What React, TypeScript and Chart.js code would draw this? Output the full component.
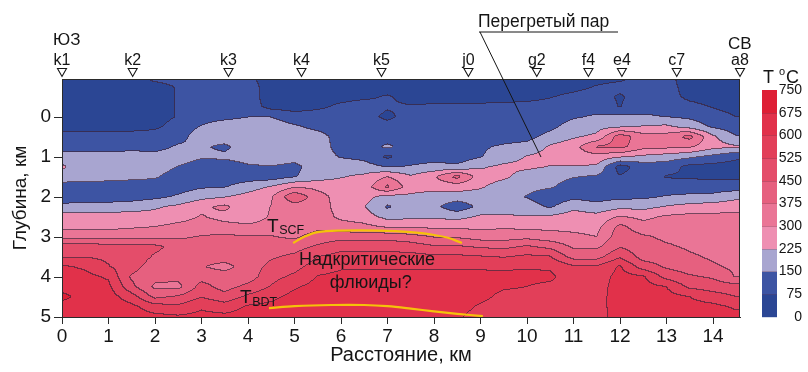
import React, { useEffect, useRef } from 'react';
import { Chart, registerables } from 'chart.js';

Chart.register(...registerables);

const FONT = '"Liberation Sans", Arial, Helvetica, sans-serif';

// grid of the section
const distanceKm = [0, 0.5, 1, 1.5, 2, 2.5, 3, 3.5, 4, 4.5, 5, 5.5, 6, 6.5, 7, 7.5, 8, 8.5, 9, 9.5, 10, 10.5, 11, 11.5, 12, 12.5, 13, 13.5, 14, 14.5];
const depthKm = [-1, -0.75, -0.5, -0.25, 0, 0.25, 0.5, 0.75, 1, 1.25, 1.5, 1.75, 2, 2.25, 2.5, 2.75, 3, 3.25, 3.5, 3.75, 4, 4.25, 4.5, 4.75, 5];

// temperature profiles (°C) at each distance, from top (depth -1 km) to bottom (5 km)
const T_0_0 = [40, 40, 40, 40, 40, 40, 110, 110, 190, 235, 200, 110, 110, 170, 260, 275, 350, 500, 520, 610, 630, 640, 700, 640, 630];
const T_0_5 = [40, 40, 40, 40, 40, 40, 110, 110, 190, 190, 195, 110, 110, 175, 260, 280, 350, 490, 520, 590, 620, 630, 640, 640, 630];
const T_1_0 = [40, 40, 40, 40, 40, 40, 110, 110, 190, 190, 180, 110, 110, 180, 255, 280, 345, 480, 510, 530, 590, 620, 635, 640, 630];
const T_1_5 = [40, 40, 40, 40, 40, 45, 110, 120, 190, 190, 170, 110, 115, 190, 260, 290, 350, 470, 500, 480, 440, 470, 560, 620, 630];
const T_2_0 = [100, 50, 40, 40, 40, 60, 110, 120, 180, 190, 160, 110, 130, 215, 250, 300, 350, 470, 440, 410, 400, 360, 430, 560, 620];
const T_2_5 = [110, 80, 80, 80, 80, 110, 120, 160, 190, 148, 110, 115, 160, 240, 270, 320, 360, 420, 410, 410, 400, 350, 460, 540, 610];
const T_3_0 = [110, 110, 110, 110, 120, 155, 190, 160, 160, 110, 105, 140, 200, 285, 305, 330, 380, 410, 410, 380, 420, 480, 520, 590, 620];
const T_3_5 = [110, 110, 110, 110, 130, 190, 190, 135, 165, 110, 105, 145, 220, 315, 280, 320, 390, 410, 410, 350, 410, 420, 480, 560, 620];
const T_4_0 = [90, 110, 110, 115, 148, 190, 190, 190, 180, 140, 110, 190, 250, 255, 270, 310, 380, 410, 410, 410, 410, 470, 540, 610, 630];
const T_4_5 = [40, 40, 40, 50, 148, 190, 190, 190, 190, 148, 110, 230, 290, 302, 305, 320, 380, 410, 440, 470, 500, 530, 580, 620, 630];
const T_5_0 = [40, 40, 40, 40, 110, 160, 190, 190, 180, 130, 145, 290, 440, 340, 320, 330, 360, 420, 465, 500, 540, 590, 625, 635, 640];
const T_5_5 = [40, 40, 40, 60, 110, 130, 180, 190, 185, 190, 190, 280, 330, 340, 340, 350, 410, 460, 525, 560, 605, 625, 635, 640, 640];
const T_6_0 = [40, 40, 50, 90, 110, 110, 120, 120, 145, 190, 220, 260, 270, 270, 285, 330, 420, 500, 550, 590, 620, 630, 640, 640, 640];
const T_6_5 = [40, 40, 60, 110, 110, 110, 110, 110, 130, 180, 240, 260, 250, 230, 260, 320, 410, 500, 550, 590, 620, 630, 640, 640, 640];
const T_7_0 = [40, 40, 82, 85, 55, 110, 110, 165, 60, 145, 300, 390, 200, 140, 200, 290, 420, 500, 550, 590, 620, 630, 640, 640, 640];
const T_7_5 = [40, 40, 50, 80, 110, 110, 110, 110, 115, 155, 235, 260, 210, 190, 205, 290, 400, 490, 550, 590, 620, 630, 640, 640, 640];
const T_8_0 = [40, 40, 50, 85, 110, 110, 110, 110, 125, 170, 290, 250, 195, 170, 210, 285, 370, 460, 540, 590, 620, 630, 640, 640, 630];
const T_8_5 = [40, 40, 50, 85, 110, 110, 110, 110, 110, 165, 400, 260, 190, 100, 200, 285, 365, 460, 540, 590, 620, 630, 630, 630, 610];
const T_9_0 = [40, 40, 45, 90, 110, 110, 115, 140, 145, 215, 260, 235, 190, 170, 235, 280, 340, 440, 530, 590, 620, 630, 620, 590, 570];
const T_9_5 = [40, 40, 45, 95, 110, 110, 120, 160, 190, 240, 240, 190, 180, 185, 235, 290, 340, 430, 520, 590, 615, 610, 580, 570, 560];
const T_10_0 = [40, 40, 50, 100, 110, 110, 125, 175, 230, 240, 190, 175, 145, 185, 228, 280, 350, 460, 540, 595, 615, 600, 575, 565, 560];
const T_10_5 = [40, 40, 70, 105, 110, 130, 175, 235, 250, 222, 180, 160, 100, 140, 235, 280, 330, 430, 530, 590, 615, 585, 570, 565, 560];
const T_11_0 = [40, 50, 95, 110, 140, 185, 215, 270, 265, 222, 155, 110, 130, 205, 260, 280, 315, 365, 420, 540, 560, 565, 565, 565, 560];
const T_11_5 = [40, 80, 110, 120, 160, 200, 240, 380, 270, 215, 140, 110, 120, 175, 250, 275, 300, 360, 420, 535, 560, 570, 575, 575, 570];
const T_12_0 = [50, 100, 65, 72, 165, 215, 420, 400, 235, 45, 80, 110, 130, 205, 305, 395, 420, 445, 515, 610, 625, 630, 630, 630, 630];
const T_12_5 = [100, 110, 110, 120, 160, 230, 330, 325, 210, 110, 110, 110, 135, 200, 280, 330, 385, 410, 420, 490, 610, 625, 630, 630, 630];
const T_13_0 = [95, 110, 110, 125, 148, 240, 330, 320, 190, 110, 70, 110, 155, 230, 310, 340, 360, 385, 420, 440, 500, 600, 625, 630, 630];
const T_13_5 = [40, 40, 55, 100, 135, 195, 400, 310, 165, 55, 65, 110, 165, 250, 320, 340, 350, 365, 385, 410, 460, 510, 600, 625, 630];
const T_14_0 = [40, 40, 40, 70, 110, 140, 240, 250, 130, 50, 60, 110, 170, 260, 320, 335, 345, 355, 365, 385, 440, 490, 560, 620, 630];
const T_14_5 = [40, 40, 40, 45, 75, 110, 155, 235, 90, 45, 60, 110, 205, 270, 320, 330, 335, 340, 350, 360, 370, 480, 525, 590, 620];

const temperatureProfiles = [
  T_0_0, T_0_5, T_1_0, T_1_5, T_2_0, T_2_5, T_3_0, T_3_5, T_4_0, T_4_5,
  T_5_0, T_5_5, T_6_0, T_6_5, T_7_0, T_7_5, T_8_0, T_8_5, T_9_0, T_9_5,
  T_10_0, T_10_5, T_11_0, T_11_5, T_12_0, T_12_5, T_13_0, T_13_5, T_14_0, T_14_5,
];

const isotherms = [0, 75, 150, 225, 300, 375, 450, 525, 600, 675, 750];
const bandColors = ['#2b4694', '#3d54a3', '#a8a5d0', '#ee8fb2', '#ea7596', '#e6607f', '#e44d6a', '#e23f59', '#e1314a', '#de1f35'];

const stationNames = ['k1', 'k2', 'k3', 'k4', 'k5', 'j0', 'g2', 'f4', 'e4', 'c7', 'a8'];
const stationKm = [0, 1.52, 3.58, 5.15, 6.87, 8.74, 10.21, 11.32, 12.04, 13.22, 14.58];

const tscfKm = [4.97, 5.2, 5.5, 6.0, 6.8, 7.5, 8.0, 8.3, 8.6];
const tscfDepth = [3.15, 3.0, 2.88, 2.84, 2.84, 2.88, 2.95, 3.02, 3.15];
const tbdtKm = [4.45, 5.0, 5.8, 6.5, 7.0, 7.5, 8.0, 8.5, 9.05];
const tbdtDepth = [4.78, 4.73, 4.7, 4.7, 4.73, 4.79, 4.86, 4.92, 4.98];

const distanceTicks = [0, 1, 2, 3, 4, 5, 6, 7, 8, 9, 10, 11, 12, 13, 14];
const depthTicks = [0, 1, 2, 3, 4, 5];

const steamPointer = { km: 10.3, depth: 1.0 };

function hexToRgb(h: string) {
  const n = parseInt(h.slice(1), 16);
  return [(n >> 16) & 255, (n >> 8) & 255, n & 255];
}
const bandRgb = bandColors.map(hexToRgb);

function bandIndex(t: number) {
  let k = 0;
  while (k < bandColors.length - 1 && t >= isotherms[k + 1]) k++;
  return k;
}
const clamp01 = (v: number) => (v < 0 ? 0 : v > 1 ? 1 : v);

const contourPlugin = {
  id: 'contourField',
  beforeDraw(chart: any) {
    const area = chart.chartArea;
    if (!area) return;
    const xs = chart.scales.x;
    const ys = chart.scales.y;
    const left = Math.round(area.left);
    const top = Math.round(area.top);
    const w = Math.round(area.right) - left;
    const h = Math.round(area.bottom) - top;
    const bands = new Uint8Array(w * h);
    const colIdx = new Int32Array(w);
    const colT = new Float32Array(w);
    for (let i = 0; i < w; i++) {
      const xv = xs.getValueForPixel(left + i + 0.5);
      let k = 0;
      while (k < distanceKm.length - 2 && xv > distanceKm[k + 1]) k++;
      colIdx[i] = k;
      colT[i] = clamp01((xv - distanceKm[k]) / (distanceKm[k + 1] - distanceKm[k]));
    }
    for (let j = 0; j < h; j++) {
      const dv = ys.getValueForPixel(top + j + 0.5);
      let r = 0;
      while (r < depthKm.length - 2 && dv > depthKm[r + 1]) r++;
      const ty = clamp01((dv - depthKm[r]) / (depthKm[r + 1] - depthKm[r]));
      for (let i = 0; i < w; i++) {
        const k = colIdx[i];
        const tx = colT[i];
        const p0 = temperatureProfiles[k];
        const p1 = temperatureProfiles[k + 1];
        const a = p0[r] + (p0[r + 1] - p0[r]) * ty;
        const b = p1[r] + (p1[r + 1] - p1[r]) * ty;
        bands[j * w + i] = bandIndex(a + (b - a) * tx);
      }
    }
    const off = document.createElement('canvas');
    off.width = w;
    off.height = h;
    const octx = off.getContext('2d')!;
    const img = octx.createImageData(w, h);
    const dark = [60, 35, 55];
    const alpha = 0.68;
    for (let j = 0; j < h; j++) {
      for (let i = 0; i < w; i++) {
        const idx = j * w + i;
        const b = bands[idx];
        const edge = (i < w - 1 && bands[idx + 1] !== b) || (j < h - 1 && bands[idx + w] !== b);
        const c = bandRgb[b];
        const o = idx * 4;
        if (edge) {
          img.data[o] = c[0] * (1 - alpha) + dark[0] * alpha;
          img.data[o + 1] = c[1] * (1 - alpha) + dark[1] * alpha;
          img.data[o + 2] = c[2] * (1 - alpha) + dark[2] * alpha;
        } else {
          img.data[o] = c[0];
          img.data[o + 1] = c[1];
          img.data[o + 2] = c[2];
        }
        img.data[o + 3] = 255;
      }
    }
    octx.putImageData(img, 0, 0);
    chart.ctx.drawImage(off, left, top);
  },
};

const annotationPlugin = {
  id: 'sectionAnnotations',
  afterDraw(chart: any) {
    const { ctx, chartArea: a } = chart;
    const xs = chart.scales.x;
    const ys = chart.scales.y;
    ctx.save();
    // frame
    ctx.strokeStyle = '#2a2a2a';
    ctx.lineWidth = 1;
    ctx.strokeRect(Math.round(a.left) + 0.5, Math.round(a.top) + 0.5, Math.round(a.right - a.left) - 1, Math.round(a.bottom - a.top));

    ctx.fillStyle = '#151515';
    ctx.strokeStyle = '#151515';
    // stations
    ctx.font = `16px ${FONT}`;
    ctx.textAlign = 'center';
    ctx.textBaseline = 'alphabetic';
    stationKm.forEach((km, k) => {
      const cx = xs.getPixelForValue(km);
      ctx.beginPath();
      ctx.moveTo(cx - 4.5, 68.5);
      ctx.lineTo(cx + 4.5, 68.5);
      ctx.lineTo(cx, 76.5);
      ctx.closePath();
      ctx.lineWidth = 1.1;
      ctx.stroke();
      ctx.fillText(stationNames[k], cx, 65);
    });
    // directions
    ctx.font = `17px ${FONT}`;
    ctx.textAlign = 'left';
    ctx.fillText('ЮЗ', xs.getPixelForValue(0) - 9, 45);
    ctx.fillText('СВ', xs.getPixelForValue(xs.max) - 12, 49);

    // superheated steam label
    ctx.font = `17.5px ${FONT}`;
    ctx.fillText('Перегретый пар', 478, 27);
    ctx.lineWidth = 1;
    ctx.beginPath();
    ctx.moveTo(479, 32);
    ctx.lineTo(618, 32);
    ctx.moveTo(480, 32);
    ctx.lineTo(xs.getPixelForValue(steamPointer.km), ys.getPixelForValue(steamPointer.depth));
    ctx.stroke();

    const drawSub = (main: string, sub: string, km: number, depth: number, subDrop: number) => {
      const px = xs.getPixelForValue(km);
      const py = ys.getPixelForValue(depth);
      ctx.textAlign = 'left';
      ctx.font = `19px ${FONT}`;
      ctx.fillText(main, px, py);
      const wMain = ctx.measureText(main).width;
      ctx.font = `12.5px ${FONT}`;
      ctx.fillText(sub, px + wMain + 0.5, py + subDrop);
    };
    drawSub('T', 'SCF', 4.41, 2.875, 2);
    drawSub('T', 'BDT', 3.83, 4.65, 3);

    ctx.font = `18px ${FONT}`;
    ctx.textAlign = 'center';
    ctx.fillText('Надкритические', xs.getPixelForValue(6.56), ys.getPixelForValue(3.7));
    ctx.fillText('флюиды?', xs.getPixelForValue(6.64), ys.getPixelForValue(4.275));

    // colour bar
    const cbLeft = 762;
    const cbWidth = 15;
    const cbTop = 90;
    const cbBottom = 316.7;
    const nb = bandColors.length;
    const seg = (cbBottom - cbTop) / nb;
    for (let k = 0; k < nb; k++) {
      ctx.fillStyle = bandColors[k];
      ctx.fillRect(cbLeft, cbBottom - (k + 1) * seg, cbWidth, seg + 0.5);
    }
    ctx.strokeStyle = 'rgba(90,40,60,0.25)';
    ctx.lineWidth = 1;
    for (let k = 1; k < nb; k++) {
      const yy = Math.round(cbBottom - k * seg) + 0.5;
      ctx.beginPath();
      ctx.moveTo(cbLeft, yy);
      ctx.lineTo(cbLeft + cbWidth, yy);
      ctx.stroke();
    }
    ctx.fillStyle = '#151515';
    ctx.font = `14px ${FONT}`;
    ctx.textAlign = 'right';
    ctx.textBaseline = 'middle';
    isotherms.forEach((v, k) => {
      ctx.fillText(String(v), 802, cbBottom - k * seg);
    });
    ctx.textBaseline = 'alphabetic';
    ctx.textAlign = 'left';
    ctx.font = `18px ${FONT}`;
    ctx.fillText('T', 763, 83);
    ctx.font = `11px ${FONT}`;
    ctx.fillText('o', 779, 75);
    ctx.font = `18px ${FONT}`;
    ctx.fillText('C', 786, 83);
    ctx.restore();
  },
};

export default function App() {
  const canvasRef = useRef<HTMLCanvasElement | null>(null);

  useEffect(() => {
    const canvas = canvasRef.current;
    if (!canvas) return;
    const chart = new Chart(canvas, {
      type: 'scatter',
      data: {
        datasets: [
          {
            label: 'T_SCF',
            data: tscfKm.map((x, i) => ({ x, y: tscfDepth[i] })),
            showLine: true,
            borderColor: '#f5c20a',
            borderWidth: 2.2,
            pointRadius: 0,
            tension: 0.35,
          },
          {
            label: 'T_BDT',
            data: tbdtKm.map((x, i) => ({ x, y: tbdtDepth[i] })),
            showLine: true,
            borderColor: '#f5c20a',
            borderWidth: 2.2,
            pointRadius: 0,
            tension: 0.35,
          },
        ],
      },
      options: {
        responsive: false,
        animation: false,
        devicePixelRatio: 1,
        events: [],
        layout: { padding: { top: 79, right: 68, left: 0, bottom: 0 } },
        plugins: { legend: { display: false }, tooltip: { enabled: false } },
        scales: {
          x: {
            type: 'linear',
            position: 'bottom',
            min: 0,
            max: 14.58,
            afterBuildTicks: (s: any) => {
              s.ticks = distanceTicks.map((v) => ({ value: v }));
            },
            afterFit: (s: any) => {
              s.height = 55;
            },
            grid: { drawOnChartArea: false, drawTicks: true, tickLength: 7, color: '#2a2a2a' },
            border: { display: true, color: '#2a2a2a' },
            ticks: { font: { family: FONT, size: 19 }, color: '#151515', padding: 1, maxRotation: 0, autoSkip: false },
            title: { display: true, text: 'Расстояние, км', font: { family: FONT, size: 20 }, color: '#151515', padding: { top: 0, bottom: 5 } },
          },
          y: {
            type: 'linear',
            min: -0.95,
            max: 5,
            reverse: true,
            afterBuildTicks: (s: any) => {
              s.ticks = depthTicks.map((v) => ({ value: v }));
            },
            afterFit: (s: any) => {
              s.width = 62;
            },
            grid: { drawOnChartArea: false, drawTicks: true, tickLength: 8, color: '#2a2a2a' },
            border: { display: true, color: '#2a2a2a' },
            ticks: { font: { family: FONT, size: 19 }, color: '#151515', padding: 3 },
            title: { display: true, text: 'Глубина, км', font: { family: FONT, size: 19 }, color: '#151515', padding: { top: 9, bottom: 0 } },
          },
        },
      },
      plugins: [contourPlugin, annotationPlugin],
    } as any);
    return () => chart.destroy();
  }, []);

  return (
    <div style={{ position: 'fixed', left: 0, top: 0, width: 808, height: 372, background: '#ffffff' }}>
      <canvas ref={canvasRef} width={808} height={372} style={{ display: 'block', width: 808, height: 372 }} />
    </div>
  );
}
